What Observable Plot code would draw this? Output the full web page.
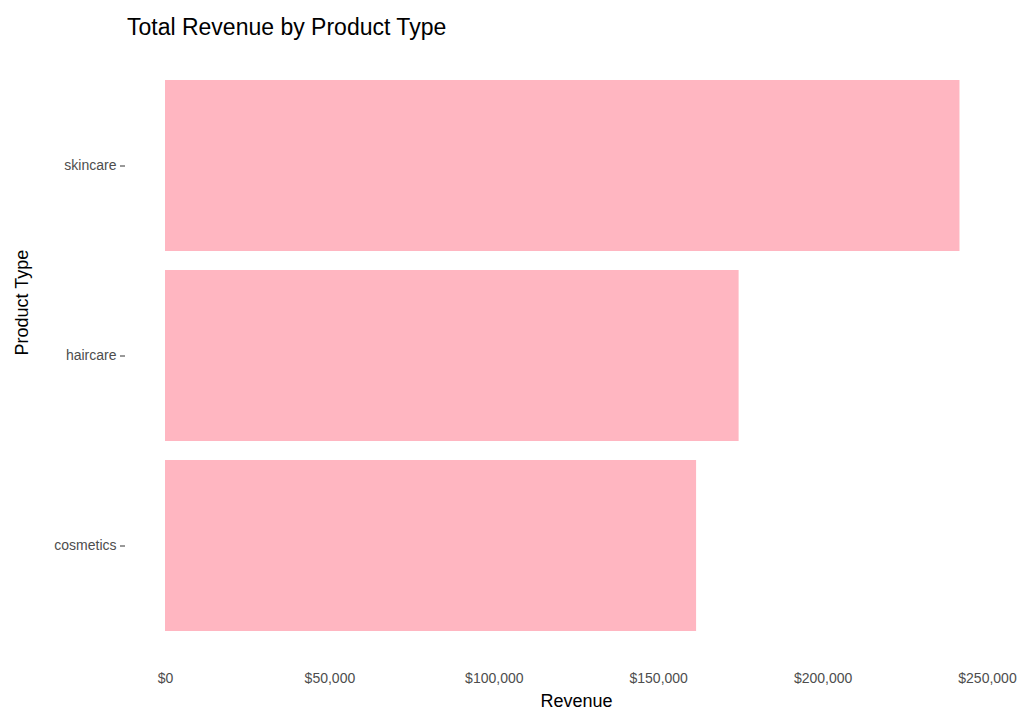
<!DOCTYPE html>
<html><head><meta charset="utf-8">
<script src="https://cdn.jsdelivr.net/npm/d3@7"></script>
<script src="https://cdn.jsdelivr.net/npm/@observablehq/plot@0.6"></script>
<style>
body{margin:0;background:#fff;font-family:"Liberation Sans",Arial,sans-serif;}
#wrap{position:relative;width:1024px;height:714px;overflow:hidden;}
#title{position:absolute;left:127px;top:14px;font-size:23px;color:#000;}
</style></head>
<body><div id="wrap"><div id="title">Total Revenue by Product Type</div></div>
<script>
const productTypes = ["skincare", "haircare", "cosmetics"];
const revenues = [241628, 174455, 161521];
const data = productTypes.map((t, i) => ({type: t, revenue: revenues[i]}));

const chart = Plot.plot({
  width: 1024, height: 714,
  marginTop: 51, marginBottom: 55, marginLeft: 165, marginRight: 37,
  style: {fontFamily: "Liberation Sans, Arial, sans-serif", fontSize: "14px", background: "transparent"},
  x: {domain: [0, 250000]},
  y: {domain: productTypes, paddingInner: 0.1, paddingOuter: 0.15},
  marks: [
    Plot.barX(data, {x: "revenue", y: "type", fill: "#ffb6c1"}),
    Plot.axisX({ticks: [0, 50000, 100000, 150000, 200000, 250000], tickSize: 0, tickPadding: 14,
      tickFormat: d => "$" + d3.format(",")(d), fill: "#4d4d4d", label: null}),
    Plot.axisY({tickSize: 5, dx: -40, tickPadding: 4, fill: "#4d4d4d", stroke: "#333", label: null}),
    Plot.text(["Revenue"], {frameAnchor: "bottom", dy: 47, fontSize: 18, fill: "#000"}),
    Plot.text(["Product Type"], {frameAnchor: "left", dx: -143, rotate: -90, fontSize: 18, fill: "#000"})
  ]
});
chart.style.position = "absolute";
chart.style.left = "0"; chart.style.top = "0";
document.getElementById("wrap").appendChild(chart);
</script></body></html>
